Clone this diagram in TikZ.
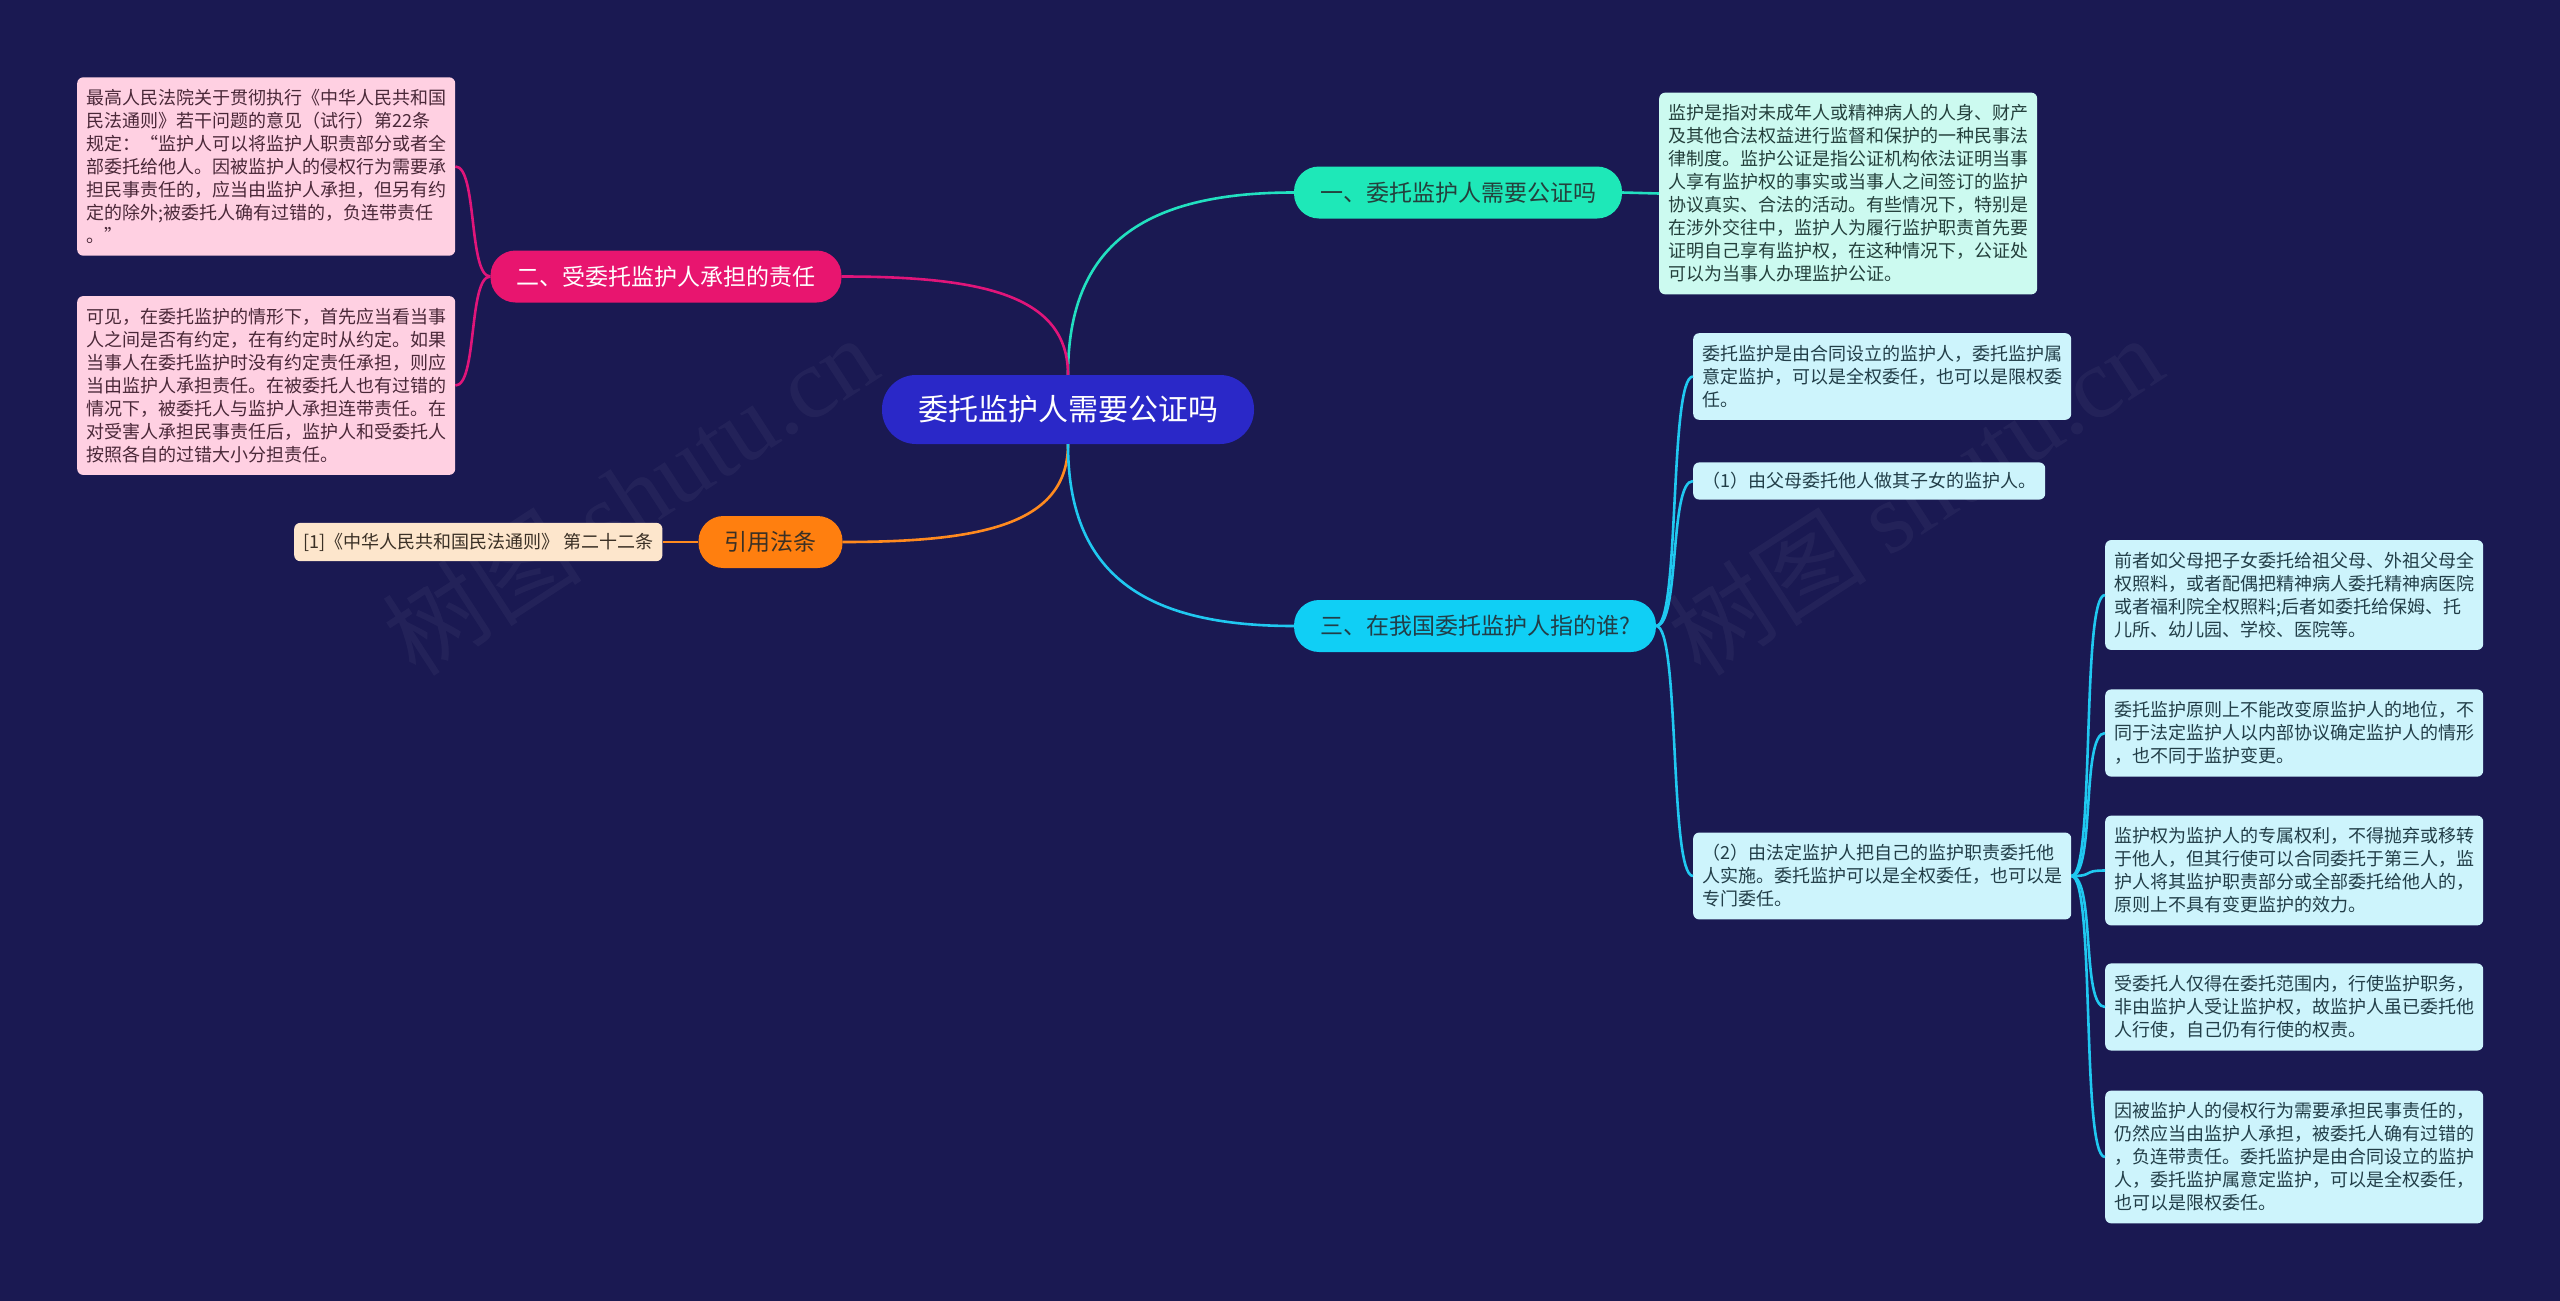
\documentclass[tikz,border=0pt]{standalone}
\usepackage{fontspec}
\setmainfont{Noto Sans CJK SC}
\newfontfamily\wmfont{Liberation Serif}
\definecolor{bgc}{HTML}{1A1952}
\definecolor{rootc}{HTML}{2A28C8}
\definecolor{bAc}{HTML}{1EE8B8}
\definecolor{lAc}{HTML}{CCFAF0}
\definecolor{tAc}{HTML}{24403C}
\definecolor{bBc}{HTML}{E8156F}
\definecolor{lBc}{HTML}{FFD0E2}
\definecolor{tBc}{HTML}{4A2838}
\definecolor{bCc}{HTML}{FF7F0F}
\definecolor{lCc}{HTML}{FDE6CC}
\definecolor{tCc}{HTML}{3A3025}
\definecolor{bDc}{HTML}{10CFF5}
\definecolor{lDc}{HTML}{CDF4FC}
\definecolor{tDc}{HTML}{223E48}
\definecolor{cAc}{HTML}{22E0C0}
\definecolor{cBc}{HTML}{E0157A}
\definecolor{cCc}{HTML}{FF8A1F}
\definecolor{cDc}{HTML}{20C8F0}
\tikzset{
  leafbox/.style={rounded corners=6pt, inner xsep=9pt, inner ysep=12pt, text width=360pt, align=left, font=\fontsize{18}{23}\selectfont, anchor=west},
  brbox/.style={rounded corners=25pt, inner xsep=26pt, minimum height=52pt, font=\fontsize{23}{28}\selectfont},
  conn/.style={line width=2.6pt},
  wmark/.style={text=white, opacity=0.045, font=\fontsize{100}{100}\selectfont, rotate=33}
}
\begin{document}
\begin{tikzpicture}[x=1pt,y=-1pt]
\useasboundingbox (0,0) rectangle (2560,1301);
\fill[bgc] (0,0) rectangle (2560,1301);
\node[wmark] (wm1) at (630,495) {树图 {\wmfont shutu.cn}};
\node[wmark] (wm2) at (1915,495) {树图 {\wmfont shutu.cn}};

% root
\node[fill=rootc, text=white, rounded corners=34pt, inner xsep=36pt, minimum height=69pt, font=\fontsize{30}{36}\selectfont] (root) at (1068,409.5) {委托监护人需要公证吗};

% branches
\node[brbox, fill=bAc, text=tAc] (b1) at (1458,192.5) {一、委托监护人需要公证吗};
\node[brbox, fill=bBc, text=white] (b2) at (666,276.5) {二、受委托监护人承担的责任};
\node[brbox, fill=bCc, text=tCc] (b3) at (770.5,542) {引用法条};
\node[brbox, fill=bDc, text=tDc] (b4) at (1475,626) {三、在我国委托监护人指的谁?};

% leaves
\node[leafbox, fill=lAc, text=tAc] (l1) at (1659,193.5) {监护是指对未成年人或精神病人的人身、财产\\及其他合法权益进行监督和保护的一种民事法\\律制度。监护公证是指公证机构依法证明当事\\人享有监护权的事实或当事人之间签订的监护\\协议真实、合法的活动。有些情况下，特别是\\在涉外交往中，监护人为履行监护职责首先要\\证明自己享有监护权，在这种情况下，公证处\\可以为当事人办理监护公证。};

\node[leafbox, fill=lBc, text=tBc] (l2a) at (77,166.5) {最高人民法院关于贯彻执行《中华人民共和国\\民法通则》若干问题的意见（试行）第22条\\规定：“监护人可以将监护人职责部分或者全\\部委托给他人。因被监护人的侵权行为需要承\\担民事责任的，应当由监护人承担，但另有约\\定的除外;被委托人确有过错的，负连带责任\\。”};

\node[leafbox, fill=lBc, text=tBc] (l2b) at (77,385.5) {可见，在委托监护的情形下，首先应当看当事\\人之间是否有约定，在有约定时从约定。如果\\当事人在委托监护时没有约定责任承担，则应\\当由监护人承担责任。在被委托人也有过错的\\情况下，被委托人与监护人承担连带责任。在\\对受害人承担民事责任后，监护人和受委托人\\按照各自的过错大小分担责任。};

\node[leafbox, text width=, fill=lCc, text=tCc, inner ysep=10pt] (l3) at (294,542) {[1]《中华人民共和国民法通则》 第二十二条};

\node[leafbox, fill=lDc, text=tDc] (l4a) at (1693,376.5) {委托监护是由合同设立的监护人，委托监护属\\意定监护，可以是全权委任，也可以是限权委\\任。};
\node[leafbox, text width=, fill=lDc, text=tDc, inner ysep=10pt] (l4b) at (1693,481) {（1）由父母委托他人做其子女的监护人。};
\node[leafbox, fill=lDc, text=tDc] (l4c) at (1693,876) {（2）由法定监护人把自己的监护职责委托他\\人实施。委托监护可以是全权委任，也可以是\\专门委任。};

\node[leafbox, fill=lDc, text=tDc] (m1) at (2105,595) {前者如父母把子女委托给祖父母、外祖父母全\\权照料，或者配偶把精神病人委托精神病医院\\或者福利院全权照料;后者如委托给保姆、托\\儿所、幼儿园、学校、医院等。};
\node[leafbox, fill=lDc, text=tDc] (m2) at (2105,733) {委托监护原则上不能改变原监护人的地位，不\\同于法定监护人以内部协议确定监护人的情形\\，也不同于监护变更。};
\node[leafbox, fill=lDc, text=tDc] (m3) at (2105,870.5) {监护权为监护人的专属权利，不得抛弃或移转\\于他人，但其行使可以合同委托于第三人，监\\护人将其监护职责部分或全部委托给他人的，\\原则上不具有变更监护的效力。};
\node[leafbox, fill=lDc, text=tDc] (m4) at (2105,1007) {受委托人仅得在委托范围内，行使监护职务，\\非由监护人受让监护权，故监护人虽已委托他\\人行使，自己仍有行使的权责。};
\node[leafbox, fill=lDc, text=tDc] (m5) at (2105,1157) {因被监护人的侵权行为需要承担民事责任的，\\仍然应当由监护人承担，被委托人确有过错的\\，负连带责任。委托监护是由合同设立的监护\\人，委托监护属意定监护，可以是全权委任，\\也可以是限权委任。};

% connectors
\draw[conn, cAc] (root.north) .. controls +(0,-130) and +(-150,0) .. (b1.west);
\draw[conn, cBc] (root.north) .. controls +(0,-80) and +(140,0) .. (b2.east);
\draw[conn, cCc] (root.south) .. controls +(0,80) and +(140,0) .. (b3.east);
\draw[conn, cDc] (root.south) .. controls +(0,130) and +(-150,0) .. (b4.west);

\draw[conn, cAc] (b1.east) -- (l1.west);
\draw[conn, cCc] (b3.west) -- (l3.east);

\draw[conn, cBc] (b2.west) .. controls +(-22,0) and +(22,0) .. (l2a.east);
\draw[conn, cBc] (b2.west) .. controls +(-22,0) and +(22,0) .. (l2b.east);

\foreach \t in {l4a,l4b,l4c}
  \draw[conn, cDc] (b4.east) .. controls +(24,0) and +(-24,0) .. (\t.west);
\foreach \t in {m1,m2,m3,m4,m5}
  \draw[conn, cDc] (l4c.east) .. controls +(24,0) and +(-24,0) .. (\t.west);
\end{tikzpicture}
\end{document}
